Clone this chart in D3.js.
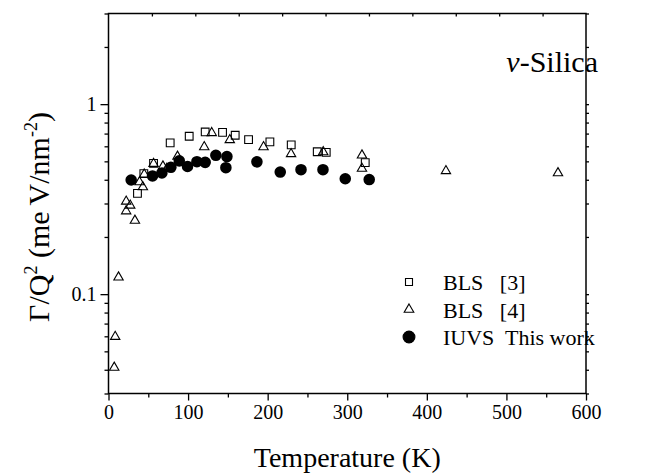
<!DOCTYPE html>
<html><head><meta charset="utf-8">
<script src="https://cdn.jsdelivr.net/npm/d3@7"></script>
<style>
body{margin:0;background:#fff}
svg{display:block}
text{font-family:"Liberation Serif","Times New Roman",serif;fill:#000}
</style>
</head><body>
<svg id="c" width="658" height="475"></svg>
<script>
// BLS [3]
const bls3T = [36.4, 44.4, 56.6, 77.5, 101.4, 121.5, 143.3, 159.2, 176.0, 202.8, 229.6, 262.3, 273.6, 322.6];
const bls3V = [0.339, 0.431, 0.488, 0.626, 0.678, 0.714, 0.710, 0.686, 0.651, 0.633, 0.611, 0.562, 0.557, 0.492];
// BLS [4]
const bls4T = [7.2, 8.4, 12.6, 22.2, 27.3, 22.2, 33.2, 39.0, 43.2, 44.9, 56.6, 68.4, 73.4, 86.7, 120.3, 129.7, 152.4, 194.8, 229.4, 269.8, 318.5, 318.5, 424.0, 564.8];
const bls4V = [0.0411, 0.0597, 0.1227, 0.3076, 0.293, 0.2735, 0.244, 0.389, 0.366, 0.427, 0.486, 0.471, 0.458, 0.530, 0.595, 0.706, 0.648, 0.595, 0.547, 0.560, 0.538, 0.458, 0.445, 0.434];
// IUVS This work
const iuvsT = [28.5, 55.3, 67.1, 78.4, 88.9, 99.3, 111.1, 121.5, 134.9, 148.8, 147.5, 186.5, 215.8, 241.9, 269.5, 297.5, 327.6];
const iuvsV = [0.399, 0.419, 0.434, 0.465, 0.503, 0.470, 0.498, 0.494, 0.538, 0.530, 0.463, 0.497, 0.439, 0.452, 0.452, 0.405, 0.401];

const xMajor = [0, 100, 200, 300, 400, 500, 600];
const xMinor = [50, 150, 250, 350, 450, 550];
const topTicks = [1, 2, 3, 4, 5, 6, 7, 8, 9, 10];
const yMajor = [0.1, 1];
const yMajorLabels = ["0.1", "1"];
const yMinor = [0.03, 0.04, 0.05, 0.06, 0.07, 0.08, 0.09, 0.2, 0.3, 0.4, 0.5, 0.6, 0.7, 0.8, 0.9, 2, 3];
const legendLabels = ["BLS   [3]", "BLS   [4]", "IUVS  This work"];

const svg = d3.select("#c");
const L = 108.5, R = 586, T = 13.5, B = 393.5;
const x = d3.scaleLinear().domain([0, 600]).range([L, R]);
const xTop = d3.scaleLinear().domain([0, 11]).range([L, R]);
const y = d3.scaleLog().domain([0.03, 3]).range([B, T]);

const ax = svg.append("g");
function styleAxis(g){ g.select(".domain").remove(); g.selectAll("line").attr("stroke","#000").attr("stroke-width",1.3); }

ax.append("g").attr("transform",`translate(0,${B})`)
  .call(d3.axisBottom(x).tickValues(xMajor).tickSize(7).tickPadding(4).tickFormat(d3.format("d")))
  .call(styleAxis)
  .call(g=>g.selectAll("text").attr("font-size",20).attr("font-family","Liberation Serif"));
ax.append("g").attr("transform",`translate(0,${B})`)
  .call(d3.axisBottom(x).tickValues(xMinor).tickSize(4).tickFormat(""))
  .call(styleAxis);
ax.append("g").attr("transform",`translate(0,${T})`)
  .call(d3.axisBottom(xTop).tickValues(topTicks).tickSize(3).tickFormat(""))
  .call(styleAxis);

ax.append("g").attr("transform",`translate(${L},0)`)
  .call(d3.axisLeft(y).tickValues(yMajor).tickSize(8).tickPadding(4).tickFormat((d,i)=>yMajorLabels[i]))
  .call(styleAxis)
  .call(g=>g.selectAll("text").attr("font-size",20).attr("font-family","Liberation Serif"));
ax.append("g").attr("transform",`translate(${L},0)`)
  .call(d3.axisLeft(y).tickValues(yMinor).tickSize(4).tickFormat(""))
  .call(styleAxis);
ax.append("g").attr("transform",`translate(${R},0)`)
  .call(d3.axisRight(y).tickValues(yMajor.concat(yMinor)).tickSize(3).tickFormat(""))
  .call(styleAxis);

svg.append("rect").attr("x",L).attr("y",T).attr("width",R-L).attr("height",B-T)
  .attr("fill","none").attr("stroke","#000").attr("stroke-width",1.5);

svg.append("text").attr("x",(L+R)/2).attr("y",467).attr("text-anchor","middle")
  .attr("font-size",28).text("Temperature (K)");
const yt = svg.append("text").attr("transform","translate(49,217) rotate(-90)").attr("text-anchor","middle").attr("font-size",30);
yt.append("tspan").text("Γ/Q");
yt.append("tspan").attr("dy",-12).attr("font-size",18).text("2");
yt.append("tspan").attr("dy",12).text(" (me\u2009V/nm");
yt.append("tspan").attr("dy",-12).attr("font-size",18).text("-2");
yt.append("tspan").attr("dy",12).text(")");

const lab = svg.append("text").attr("x",598).attr("y",72).attr("text-anchor","end").attr("font-size",30);
lab.append("tspan").attr("font-style","italic").text("v");
lab.append("tspan").text("-Silica");

const sq = d3.symbol().type(d3.symbolSquare).size(60);
const tri = d3.symbol().type(d3.symbolTriangle).size(38);
const cir = d3.symbol().type(d3.symbolCircle).size(105);

const g = svg.append("g");
g.selectAll(".s3").data(bls3T).join("path").attr("class","s3")
  .attr("d",sq).attr("transform",(d,i)=>`translate(${x(d)},${y(bls3V[i])})`)
  .attr("fill","none").attr("stroke","#000").attr("stroke-width",1.1);
g.selectAll(".s4").data(bls4T).join("path").attr("class","s4")
  .attr("d",tri).attr("transform",(d,i)=>`translate(${x(d)},${y(bls4V[i])})`)
  .attr("fill","none").attr("stroke","#000").attr("stroke-width",1.1);
g.selectAll(".iu").data(iuvsT).join("path").attr("class","iu")
  .attr("d",cir).attr("transform",(d,i)=>`translate(${x(d)},${y(iuvsV[i])})`)
  .attr("fill","#000");

const syms = [
  {s:d3.symbol().type(d3.symbolSquare).size(49), fill:"none"},
  {s:d3.symbol().type(d3.symbolTriangle).size(40), fill:"none"},
  {s:d3.symbol().type(d3.symbolCircle).size(110), fill:"#000"}
];
const lg = svg.append("g");
legendLabels.forEach((t,i)=>{
  const yy = 282 + i*27.5;
  lg.append("path").attr("d",syms[i].s()).attr("transform",`translate(409,${yy})`)
    .attr("fill",syms[i].fill).attr("stroke","#000").attr("stroke-width",1.1);
  lg.append("text").attr("x",443).attr("y",yy+8).attr("font-size",22)
    .style("white-space","pre").text(t);
});
</script>
</body></html>
